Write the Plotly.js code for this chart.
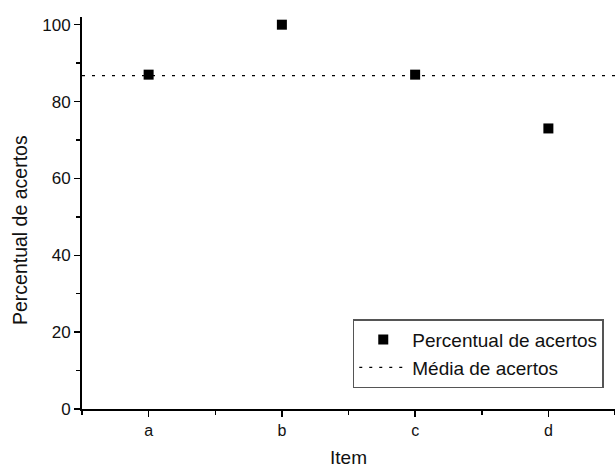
<!DOCTYPE html>
<html>
<head>
<meta charset="utf-8">
<script src="https://cdn.plot.ly/plotly-3.0.1.min.js"></script>
<style>html,body{margin:0;padding:0;background:#fff;}#chart{width:615px;height:468px;}</style>
</head>
<body>
<div id="chart"></div>
<script>
const categories = ['a', 'b', 'c', 'd'];
const percentual = [87, 100, 87, 73];
const yTicks = [0, 20, 40, 60, 80, 100];

const positions = categories.map((c, i) => i + 1);
const media = percentual.reduce((s, v) => s + v, 0) / percentual.length;

const traces = [
  {
    x: positions,
    y: percentual,
    type: 'scatter',
    mode: 'markers',
    name: 'Percentual de acertos',
    marker: {symbol: 'square', size: 10, color: '#000'},
    cliponaxis: false
  },
  {
    x: [0.5, categories.length + 0.5],
    y: [media, media],
    type: 'scatter',
    mode: 'lines',
    name: 'Média de acertos',
    line: {color: '#000', width: 1.2, dash: '3px,7px'}
  }
];

const fam = '"Liberation Sans", Arial, sans-serif';
const txt = '#111';

const layout = {
  width: 615,
  height: 468,
  margin: {l: 82, r: 0, t: 17, b: 59},
  paper_bgcolor: '#fff',
  plot_bgcolor: '#fff',
  font: {family: fam, color: txt},
  showlegend: true,
  xaxis: {
    range: [0.5, categories.length + 0.5],
    tickvals: positions,
    ticktext: categories,
    showgrid: false,
    zeroline: false,
    showline: true,
    linecolor: '#000',
    linewidth: 2,
    ticks: 'outside',
    ticklen: 6,
    tickwidth: 1.5,
    tickcolor: '#000',
    tickfont: {family: fam, size: 16, color: txt},
    minor: {tickvals: [0.5, 1.5, 2.5, 3.5, 4.5], ticks: 'outside', ticklen: 4, tickwidth: 1.5, tickcolor: '#000', showgrid: false},
    title: {text: 'Item', font: {family: fam, size: 19, color: txt}, standoff: 16},
    fixedrange: true
  },
  yaxis: {
    range: [0, 102],
    tickvals: yTicks,
    showgrid: false,
    zeroline: false,
    showline: true,
    linecolor: '#000',
    linewidth: 2,
    ticks: 'outside',
    ticklen: 6,
    tickwidth: 1.5,
    tickcolor: '#000',
    tickfont: {family: fam, size: 17, color: txt},
    minor: {tickvals: [10, 30, 50, 70, 90], ticks: 'outside', ticklen: 4, tickwidth: 1.5, tickcolor: '#000', showgrid: false},
    fixedrange: true
  },
  annotations: [{
    text: 'Percentual de acertos',
    xref: 'paper', yref: 'paper',
    x: -0.116, y: 0.457,
    xanchor: 'center', yanchor: 'middle',
    textangle: -90,
    showarrow: false,
    font: {family: fam, size: 19.5, color: txt}
  }],
  legend: {
    x: 0.508,
    y: 0.229,
    xanchor: 'left',
    yanchor: 'top',
    bgcolor: '#fff',
    bordercolor: '#555',
    borderwidth: 1.5,
    font: {family: fam, size: 19, color: txt},
    tracegroupgap: 0,
    itemwidth: 48
  }
};

Plotly.newPlot('chart', traces, layout, {displayModeBar: false, staticPlot: true});
</script>
</body>
</html>
